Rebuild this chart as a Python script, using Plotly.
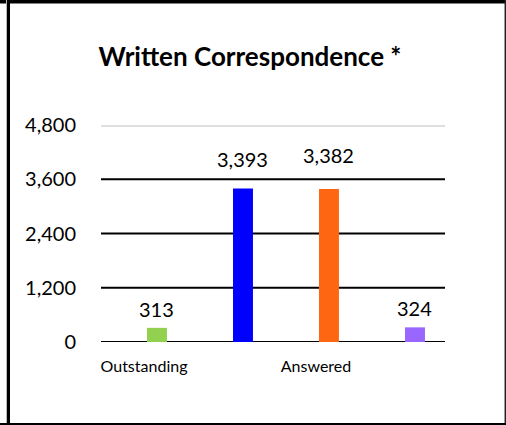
import plotly.graph_objects as go

# ---- data ----
tick_labels = ["Outstanding", "", "Answered", ""]
values = [313, 3393, 3382, 324]
bar_colors = ["#92D050", "#0000FF", "#FF6611", "#9966FF"]
y_ticks = [0, 1200, 2400, 3600, 4800]
title_text = "<b>Written Correspondence *</b>"

positions = list(range(len(values)))
label_shift = [5, 16, 20, 5]  # px offset of value labels above bars

FONT = "Lato"
L, R, T, B, W, H = 101, 61, 125, 83, 506, 425
PW, PH = W - L - R, H - T - B


def px_x(p):
    return (p - L) / PW


def px_y(p):
    return (H - B - p) / PH


fig = go.Figure()
fig.add_trace(go.Bar(
    x=positions, y=values,
    marker=dict(color=bar_colors, line=dict(width=0)),
    width=0.232, offset=0.035,
    hoverinfo="skip",
))

# value labels
for p, v, s in zip(positions, values, label_shift):
    fig.add_annotation(
        x=p + 0.151, y=v, xref="x", yref="y",
        text=f"{v:,}", showarrow=False,
        yanchor="bottom", yshift=s,
        font=dict(family=FONT, size=20, color="#000"),
    )

shapes = []
# gridlines
for t in y_ticks:
    if t == y_ticks[-1]:
        for off in (-1, 1):
            shapes.append(dict(
                type="line", xref="paper", x0=0, x1=1,
                yref="y", ysizemode="pixel", yanchor=t, y0=off, y1=off,
                line=dict(color="#BFBFBF", width=1), layer="below",
            ))
    else:
        shapes.append(dict(
            type="line", xref="paper", x0=0, x1=1, yref="y", y0=t, y1=t,
            line=dict(color="#000000", width=2), layer="below",
        ))

# outer frame
frame = [
    ((0, 1.5), (W, 1.5), "black", 4),          # top
    ((6.5, 0), (6.5, H), "#BBBBBB", 1),        # left grey edge
    ((8.5, 0), (8.5, H), "black", 3),          # left
    ((505.3, 0), (505.3, H), "#222222", 1.5),  # right
    ((0, 424), (W, 424), "black", 2),          # bottom
]
for (xa, ya), (xb, yb), c, w in frame:
    shapes.append(dict(type="line", xref="paper", yref="paper",
                       x0=px_x(xa), x1=px_x(xb), y0=px_y(ya), y1=px_y(yb),
                       line=dict(color=c, width=w)))

fig.update_layout(
    width=W, height=H,
    margin=dict(l=L, r=R, t=T, b=B),
    paper_bgcolor="white", plot_bgcolor="white",
    showlegend=False,
    title=dict(text=title_text, x=0.494, xanchor="center",
               y=1 - 57 / H, yanchor="middle",
               font=dict(family=FONT, size=26, color="#000")),
    shapes=shapes,
    xaxis=dict(
        range=[-0.5, len(values) - 0.5],
        tickmode="array", tickvals=positions, ticktext=tick_labels,
        showgrid=False, zeroline=False, showline=False,
        ticks="outside", ticklen=10, tickcolor="rgba(0,0,0,0)",
        tickfont=dict(family=FONT, size=16, color="#000"),
        fixedrange=True,
    ),
    yaxis=dict(
        range=[0, y_ticks[-1]],
        tickmode="array", tickvals=y_ticks,
        tickformat=",d",
        showgrid=False, zeroline=False, showline=False,
        ticks="outside", ticklen=20, tickcolor="rgba(0,0,0,0)",
        tickfont=dict(family=FONT, size=20, color="#000"),
        fixedrange=True,
    ),
)

fig.write_html("out.html", config={"displayModeBar": False},
               post_script="document.body.style.margin='0';")
